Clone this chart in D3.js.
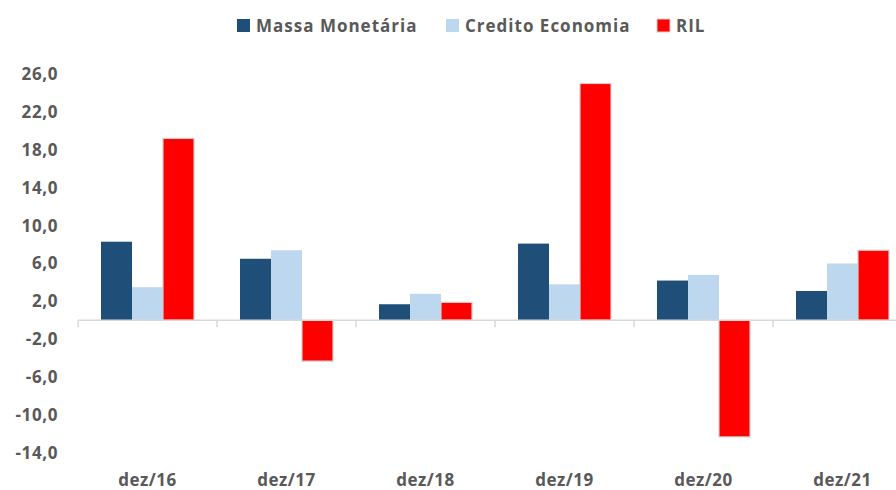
<!DOCTYPE html>
<html>
<head>
<meta charset="utf-8">
<script src="https://cdn.jsdelivr.net/npm/d3@7"></script>
<style>
  body { margin: 0; background: #fff; }
  text { font-family: "Open Sans", sans-serif; font-weight: bold; fill: #595959; }
</style>
</head>
<body>
<svg id="vis" width="896" height="490"></svg>
<script>
// data
const categories = ["dez/16", "dez/17", "dez/18", "dez/19", "dez/20", "dez/21"];
const seriesNames = ["Massa Monetária", "Credito Economia", "RIL"];
const massa = [8.3, 6.5, 1.7, 8.1, 4.2, 3.1];
const credito = [3.5, 7.4, 2.8, 3.8, 4.8, 6.0];
const ril = [19.2, -4.3, 1.9, 25.0, -12.3, 7.4];
const yTicks = [-14, -10, -6, -2, 2, 6, 10, 14, 18, 22, 26];
const colors = ["#1F4E79", "#BDD7EE", "#FF0000"];

const values = [massa, credito, ril];

const svg = d3.select("#vis");

const y = d3.scaleLinear().domain([-14, 26]).range([453, 74]);
const x0 = d3.scaleBand().domain(categories).range([78, 78 + 6 * 139]).padding(0);
const x1 = d3.scaleBand().domain(seriesNames).range([0, x0.bandwidth()])
  .paddingInner(0).paddingOuter(0.742);

// y axis labels only
const yAxis = svg.append("g")
  .attr("transform", "translate(60,0)")
  .call(d3.axisLeft(y).tickValues(yTicks).tickSize(0).tickPadding(2)
    .tickFormat(d => d3.format(".1f")(d).replace(".", ",").replace("−", "-")));
yAxis.select(".domain").remove();
yAxis.selectAll("text")
  .style("font-size", "17px")
  .style("font-family", "'Open Sans', sans-serif")
  .style("letter-spacing", "0.6px")
  .attr("fill", "#595959");

// bars
const groups = svg.append("g").selectAll("g")
  .data(categories)
  .join("g")
  .attr("transform", d => `translate(${x0(d)},0)`);

groups.selectAll("rect")
  .data((d, i) => seriesNames.map((s, j) => ({ s, j, v: values[j][i] })))
  .join("rect")
  .attr("x", d => x1(d.s))
  .attr("width", x1.bandwidth())
  .attr("y", d => y(Math.max(0, d.v)))
  .attr("height", d => Math.abs(y(d.v) - y(0)))
  .attr("fill", d => colors[d.j])
  .attr("stroke", d => d.j === 2 ? "#cfcfcf" : "none")
  .attr("stroke-width", 1.2);

// x axis line with ticks at category boundaries
const zeroY = y(0);
svg.append("line")
  .attr("x1", 78).attr("x2", 896)
  .attr("y1", zeroY).attr("y2", zeroY)
  .attr("stroke", "#d9d9d9").attr("stroke-width", 1.5);

svg.append("g").selectAll("line")
  .data(categories)
  .join("line")
  .attr("x1", d => x0(d)).attr("x2", d => x0(d))
  .attr("y1", zeroY).attr("y2", zeroY + 7)
  .attr("stroke", "#d9d9d9").attr("stroke-width", 1.5);

// category labels at the bottom
svg.append("g").selectAll("text")
  .data(categories)
  .join("text")
  .attr("x", d => x0(d) + x0.bandwidth() / 2)
  .attr("y", 486)
  .attr("text-anchor", "middle")
  .style("font-size", "17px")
  .style("letter-spacing", "0.5px")
  .text(d => d);

// legend
const legendX = [237, 446, 657];
const legend = svg.append("g").selectAll("g")
  .data(seriesNames)
  .join("g")
  .attr("transform", (d, i) => `translate(${legendX[i]},19)`);

legend.append("rect")
  .attr("width", 13).attr("height", 13)
  .attr("fill", (d, i) => colors[i])
  .attr("stroke", (d, i) => i === 2 ? "#cfcfcf" : "none");

legend.append("text")
  .attr("x", 19)
  .attr("y", 12.5)
  .style("font-size", "17px")
  .style("letter-spacing", "1px")
  .text(d => d);
</script>
</body>
</html>
